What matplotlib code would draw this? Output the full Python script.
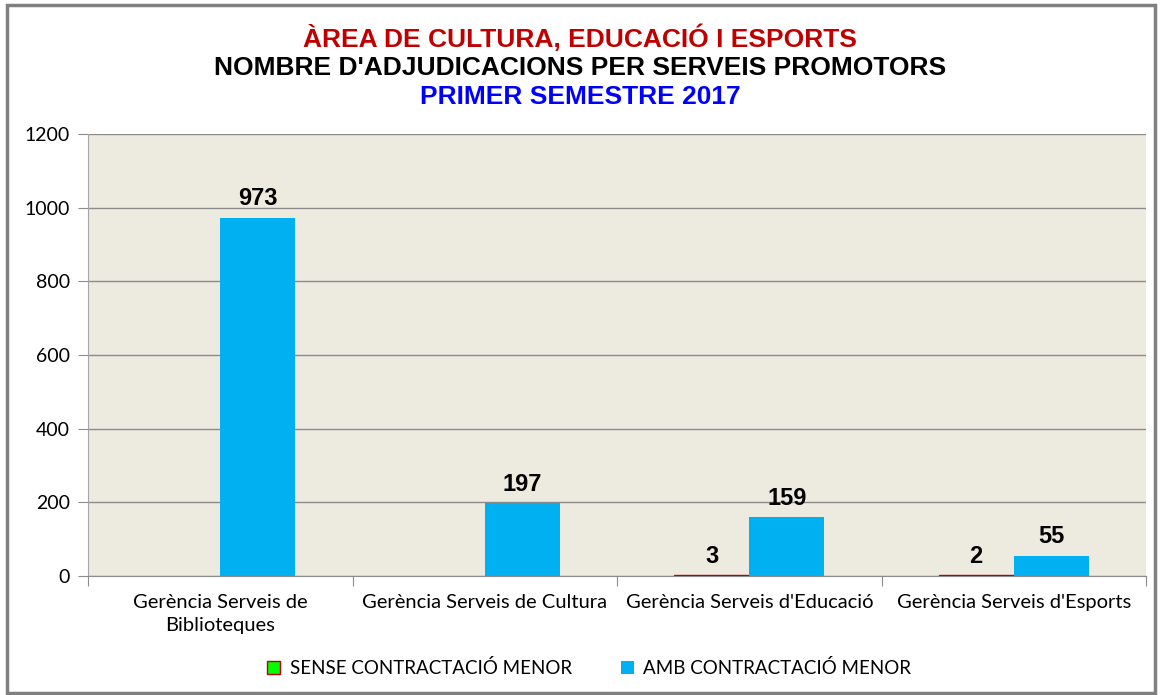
import matplotlib.pyplot as plt
import numpy as np
from matplotlib.patches import Rectangle

# Data
categories = ["Gerència Serveis de\nBiblioteques", "Gerència Serveis de Cultura",
              "Gerència Serveis d'Educació", "Gerència Serveis d'Esports"]
sense_vals = [0, 0, 3, 2]
amb_vals = [973, 197, 159, 55]
series_names = ["SENSE CONTRACTACIÓ MENOR", "AMB CONTRACTACIÓ MENOR"]

fig = plt.figure(figsize=(11.6, 6.95), dpi=100)
fig.patches.append(Rectangle((0.006, 0.003), 0.99, 0.99, transform=fig.transFigure,
                             fill=False, edgecolor='#808080', linewidth=2.5))

ax = fig.add_axes([88 / 1160, 1 - 576 / 695, (1146 - 88) / 1160, (576 - 134) / 695])
ax.set_facecolor('#EDEAE0')

x = np.arange(len(categories))
w = 0.284
b1 = ax.bar(x - w / 2, sense_vals, w, color='#00FF00', edgecolor='#C00000',
            linewidth=[1 if v > 0 else 0 for v in sense_vals], zorder=3)
b2 = ax.bar(x + w / 2, amb_vals, w, color='#00B0F0', zorder=3)

for rect, v in zip(b1, sense_vals):
    if v > 0:
        ax.text(rect.get_x() + rect.get_width() / 2, v + 20, str(v), ha='center', va='bottom',
                fontsize=17, fontweight='bold', family='Liberation Sans')
for rect, v in zip(b2, amb_vals):
    ax.text(rect.get_x() + rect.get_width() / 2, v + 20, str(v), ha='center', va='bottom',
            fontsize=17, fontweight='bold', family='Liberation Sans')

ax.set_xlim(-0.5, 3.5)
ax.set_ylim(0, 1200)
ax.set_yticks(range(0, 1201, 200))
ax.yaxis.grid(True, color='#8C8C8C', linewidth=1, zorder=0)
ax.set_axisbelow(True)

for s in ['top', 'right']:
    ax.spines[s].set_visible(False)
ax.spines['left'].set_color('#A6A6A6')
ax.spines['bottom'].set_color('#8C8C8C')

# category boundary ticks
ax.set_xticks(np.arange(-0.5, 4, 1))
ax.set_xticklabels([])
ax.tick_params(axis='x', length=7, color='#8C8C8C', direction='out')
ax.tick_params(axis='y', length=7, color='#8C8C8C', direction='out', labelsize=14, pad=6)
for lbl in ax.get_yticklabels():
    lbl.set_family('Lato')

for i, c in enumerate(categories):
    ax.text(i, -0.04, c, transform=ax.get_xaxis_transform(), ha='center', va='top',
            fontsize=14.5, family='Lato', linespacing=1.45)

# titles
fig.text(0.5, 1 - 38 / 695, "ÀREA DE CULTURA, EDUCACIÓ I ESPORTS", ha='center', va='center',
         color='#C00000', fontsize=19, fontweight='bold', family='Liberation Sans')
fig.text(0.5, 1 - 68 / 695, "NOMBRE D'ADJUDICACIONS PER SERVEIS PROMOTORS", ha='center', va='center',
         color='black', fontsize=19, fontweight='bold', family='Liberation Sans')
fig.text(0.5, 1 - 97 / 695, "PRIMER SEMESTRE 2017", ha='center', va='center',
         color='#0000FF', fontsize=19, fontweight='bold', family='Liberation Sans')

h1 = Rectangle((0, 0), 1, 1, facecolor='#00FF00', edgecolor='#C00000', linewidth=1)
h2 = Rectangle((0, 0), 1, 1, facecolor='#00B0F0', edgecolor='none')
leg = fig.legend([h1, h2], series_names, loc='center', bbox_to_anchor=(0.508, 1 - 668 / 695),
                 ncol=2, frameon=False, prop={'family': 'Lato', 'size': 13.5},
                 handlelength=0.7, handleheight=0.7, columnspacing=2.6, handletextpad=0.5)

fig.savefig('out.png', dpi=100)
